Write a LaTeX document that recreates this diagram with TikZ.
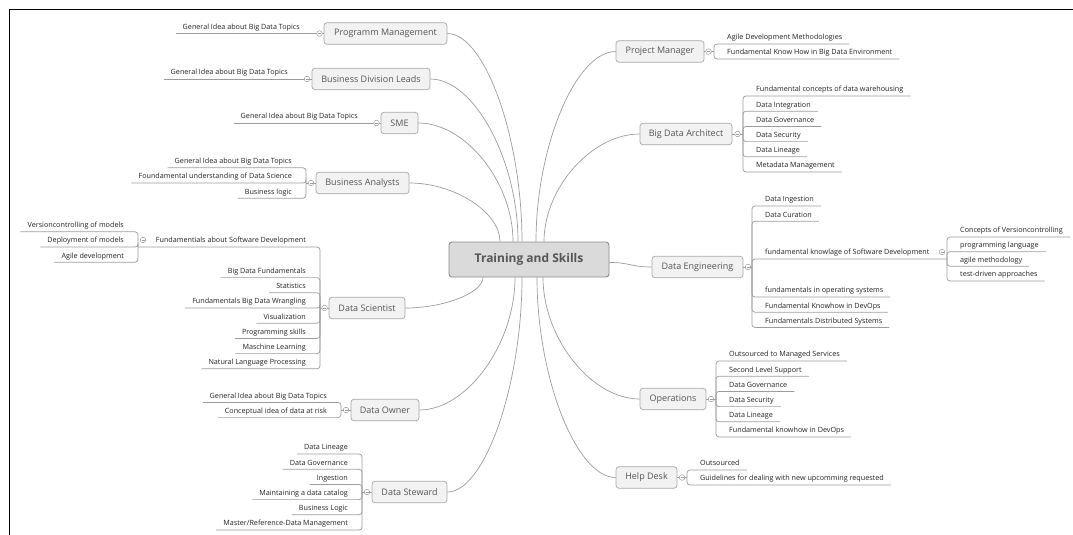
\documentclass[tikz,border=0pt]{standalone}
\usepackage{fontspec}
\setmainfont{Open Sans}
\usetikzlibrary{calc}

\definecolor{linegrey}{HTML}{9C9C9C}
\definecolor{boxline}{HTML}{A8A8A8}
\definecolor{boxfill}{HTML}{F2F2F2}
\definecolor{rootfill}{HTML}{DADADA}
\definecolor{rootline}{HTML}{8C8C8C}
\definecolor{topictext}{HTML}{555555}
\definecolor{leaftext}{HTML}{222222}

\newcommand\leaffont{\fontsize{7.2}{8}\selectfont}
\newcommand\topicfont{\fontsize{9}{11}\selectfont}
\newcommand\rootfont{\fontsize{12}{14}\selectfont\bfseries}

\tikzset{
  root/.style={draw=rootline, fill=rootfill, line width=0.9pt, rounded corners=3pt,
    minimum width=160, minimum height=35, font=\rootfont, text=topictext, inner sep=0pt},
  topic/.style={draw=boxline, fill=boxfill, line width=0.7pt, rounded corners=3pt,
    minimum height=21.5, font=\topicfont, text=topictext, inner sep=0pt},
  leafL/.style={anchor=south east, inner xsep=7pt, inner ysep=2.4pt, text height=5.4pt,
    text depth=1.6pt, font=\leaffont, text=leaftext},
  leafR/.style={leafL, anchor=south west},
  fold/.style={circle, draw=linegrey, fill=white, line width=0.5pt, minimum size=5.6pt,
    inner sep=0pt, path picture={\draw[linegrey, line width=0.45pt]
      ([xshift=-1.5pt]path picture bounding box.center) --
      ([xshift=1.5pt]path picture bounding box.center);}},
  branch/.style={draw=linegrey, line width=0.7pt},
  elbow/.style={branch, rounded corners=3pt},
  frame/.style={draw=black, line width=1.6pt}
}

% curved link from the root to a main topic: leaves vertically, arrives horizontally
\newcommand\rootlink[2]{\draw[branch] (#1) .. controls ($(#1)!0.5!(#1|-#2)$)
  and ($(#2)!0.5!(#1|-#2)$) .. (#2);}

\begin{document}
\begin{tikzpicture}[x=1pt,y=-1pt]
\useasboundingbox (0,0) rectangle (1073,535);
\draw[frame] (9.6,535) -- (9.6,9.6) -- (1073,9.6);

% ---------- root and main topics ----------
\node[root] (ts) at (529,259.5) {Training and Skills};

\node[topic, minimum width=123] (pm)  at (385.5,33.5) {Programm Management};
\node[topic, minimum width=118] (bdl) at (371,79)     {Business Division Leads};
\node[topic, minimum width=37]  (sme) at (399.5,123)  {SME};
\node[topic, minimum width=93]  (ba)  at (362.5,183)  {Business Analysts};
\node[topic, minimum width=76]  (ds)  at (367,308)    {Data Scientist};
\node[topic, minimum width=68]  (do)  at (385,410)    {Data Owner};
\node[topic, minimum width=75]  (dst) at (409.5,492)  {Data Steward};

\node[topic, minimum width=88]  (prm) at (660,51.5)   {Project Manager};
\node[topic, minimum width=92]  (bda) at (686,134)    {Big Data Architect};
\node[topic, minimum width=91]  (de)  at (697.5,267)  {Data Engineering};
\node[topic, minimum width=66]  (ops) at (673,399)    {Operations};
\node[topic, minimum width=61]  (hd)  at (646.5,477.5){Help Desk};

% ---------- links from the root ----------
\coordinate (r-pm)  at ([xshift=-7pt]ts.north);
\coordinate (r-bdl) at ([xshift=-11pt]ts.north);
\coordinate (r-sme) at ([xshift=-16pt]ts.north);
\coordinate (r-ba)  at ([xshift=-29pt]ts.north);
\coordinate (r-prm) at ([xshift=7pt]ts.north);
\coordinate (r-bda) at ([xshift=15pt]ts.north);
\coordinate (r-ds)  at ([xshift=-46pt]ts.south);
\coordinate (r-do)  at ([xshift=-14pt]ts.south);
\coordinate (r-dst) at ([xshift=-7pt]ts.south);
\coordinate (r-hd)  at ([xshift=8pt]ts.south);
\coordinate (r-ops) at ([xshift=14pt]ts.south);
\coordinate (r-de)  at ([yshift=-3pt]ts.east);

\rootlink{r-pm}{pm.east}
\rootlink{r-bdl}{bdl.east}
\rootlink{r-sme}{sme.east}
\rootlink{r-ba}{ba.east}
\rootlink{r-prm}{prm.west}
\rootlink{r-bda}{bda.west}
\rootlink{r-ds}{ds.east}
\rootlink{r-do}{do.east}
\rootlink{r-dst}{dst.east}
\rootlink{r-hd}{hd.west}
\rootlink{r-ops}{ops.west}
\draw[branch] (r-de) .. controls ($(r-de)!0.5!(r-de-|de.west)$)
  and ($(de.west)!0.5!(de.west-|r-de)$) .. (de.west);

% ---------- left-hand subtopics ----------
\node[leafL] (pm1) at (307,33.5) {General Idea about Big Data Topics};
\draw[branch] (pm1.south west) -- (pm.west);

\node[leafL] (bdl1) at (295,79) {General Idea about Big Data Topics};
\draw[branch] (bdl1.south west) -- (bdl.west);

\node[leafL] (sme1) at (365,123) {General Idea about Big Data Topics};
\draw[branch] (sme1.south west) -- (sme.west);

\coordinate (baB) at (306,183);
\foreach \yy/\lbl [count=\i] in {167.8/General Idea about Big Data Topics,
    183/Foundamental understanding of Data Science, 198.2/Business logic}{
  \node[leafL] (ba\i) at (299,\yy) {\lbl};
  \draw[elbow] (baB) -- (ba\i.south west -| baB) -- (ba\i.south west);
}
\draw[branch] (baB) -- (ba.west);

\coordinate (dsB) at (320,308);
\coordinate (fsB) at (138,247);
\node[leafL] (ds0) at (313,247) {Fundamentials about Software Development};
\draw[elbow] (dsB) -- (ds0.south west -| dsB) -- (fsB);
\foreach \yy/\lbl [count=\i] in {277.6/Big Data Fundamentals, 292.8/Statistics,
    308/Fundamentals Big Data Wrangling, 323.2/Visualization, 338.4/Programming skills,
    353.6/Maschine Learning, 368.8/Natural Language Processing}{
  \node[leafL] (ds\i) at (313,\yy) {\lbl};
  \draw[elbow] (dsB) -- (ds\i.south west -| dsB) -- (ds\i.south west);
}
\draw[branch] (dsB) -- (ds.west);
\foreach \yy/\lbl [count=\i] in {231.8/Versioncontrolling of models,
    247/Deployment of models, 262.2/Agile development}{
  \node[leafL] (fs\i) at (131,\yy) {\lbl};
  \draw[elbow] (fsB) -- (fs\i.south west -| fsB) -- (fs\i.south west);
}

\coordinate (doB) at (341,410);
\foreach \yy/\lbl [count=\i] in {402.4/General Idea about Big Data Topics,
    417.6/Conceptual idea of data at risk}{
  \node[leafL] (do\i) at (334,\yy) {\lbl};
  \draw[elbow] (doB) -- (do\i.south west -| doB) -- (do\i.south west);
}
\draw[branch] (doB) -- (do.west);

\coordinate (dstB) at (362,492);
\foreach \yy/\lbl [count=\i] in {454/Data Lineage, 469.2/Data Governance,
    484.4/Ingestion, 499.6/Maintaining a data catalog, 514.8/Business Logic,
    530/{Master/Reference-Data Management}}{
  \node[leafL] (dst\i) at (355,\yy) {\lbl};
  \draw[elbow] (dstB) -- (dst\i.south west -| dstB) -- (dst\i.south west);
}
\draw[branch] (dstB) -- (dst.west);

% ---------- right-hand subtopics ----------
\coordinate (prmB) at (714,51.5);
\foreach \yy/\lbl [count=\i] in {44/Agile Development Methodologies,
    59/Fundamental Know How in Big Data Environment}{
  \node[leafR] (prm\i) at (720,\yy) {\lbl};
  \draw[elbow] (prmB) -- (prm\i.south east -| prmB) -- (prm\i.south east);
}
\draw[branch] (prm.east) -- (prmB);

\coordinate (bdaB) at (743,134);
\foreach \yy/\lbl [count=\i] in {96/Fundamental concepts of data warehousing,
    111.2/Data Integration, 126.4/Data Governance, 141.6/Data Security,
    156.8/Data Lineage, 172/Metadata Management}{
  \node[leafR] (bda\i) at (749,\yy) {\lbl};
  \draw[elbow] (bdaB) -- (bda\i.south east -| bdaB) -- (bda\i.south east);
}
\draw[branch] (bda.east) -- (bdaB);

\coordinate (deB) at (752,267);
\coordinate (kB) at (947,259);
\node[leafR] (de0) at (758,259) {fundamental knowlage of Software Development};
\draw[elbow] (deB) -- (de0.south west -| deB) -- (kB);
\foreach \yy/\lbl [count=\i] in {206/Data Ingestion, 221.2/Data Curation,
    297/fundamentals in operating systems, 312.2/Fundamental Knowhow in DevOps,
    327.4/Fundamentals Distributed Systems}{
  \node[leafR] (de\i) at (758,\yy) {\lbl};
  \draw[elbow] (deB) -- (de\i.south east -| deB) -- (de\i.south east);
}
\draw[branch] (de.east) -- (deB);
\foreach \yy/\lbl [count=\i] in {237/Concepts of Versioncontrolling,
    251.7/programming language, 266.3/agile methodology, 281/test-driven approaches}{
  \node[leafR] (k\i) at (953,\yy) {\lbl};
  \draw[elbow] (kB) -- (k\i.south east -| kB) -- (k\i.south east);
}

\coordinate (opsB) at (716,399);
\foreach \yy/\lbl [count=\i] in {361/Outsourced to Managed Services,
    376.2/Second Level Support, 391.4/Data Governance, 406.6/Data Security,
    421.8/Data Lineage, 437/Fundamental knowhow in DevOps}{
  \node[leafR] (ops\i) at (722,\yy) {\lbl};
  \draw[elbow] (opsB) -- (ops\i.south east -| opsB) -- (ops\i.south east);
}
\draw[branch] (ops.east) -- (opsB);

\coordinate (hdB) at (687,477.5);
\foreach \yy/\lbl [count=\i] in {470/Outsourced,
    485/Guidelines for dealing with new upcomming requested}{
  \node[leafR] (hd\i) at (693,\yy) {\lbl};
  \draw[elbow] (hdB) -- (hd\i.south east -| hdB) -- (hd\i.south east);
}
\draw[branch] (hd.east) -- (hdB);

% ---------- collapse buttons ----------
\node[fold] (pmF)  at (319.5,33.5) {};
\node[fold] (bdlF) at (307,79)     {};
\node[fold] (smeF) at (376.5,123)  {};
\node[fold] (baF)  at (311,183)    {};
\node[fold] (dsF)  at (324.5,308)  {};
\node[fold] (fsF)  at (143,240)    {};
\node[fold] (doF)  at (346,410)    {};
\node[fold] (dstF) at (367,492)    {};
\node[fold] (prmF) at (708.5,51.5) {};
\node[fold] (bdaF) at (737.5,134)  {};
\node[fold] (deF)  at (748,267)    {};
\node[fold] (kF)   at (942,252)    {};
\node[fold] (opsF) at (711,399)    {};
\node[fold] (hdF)  at (682,477.5)  {};
\end{tikzpicture}
\end{document}
